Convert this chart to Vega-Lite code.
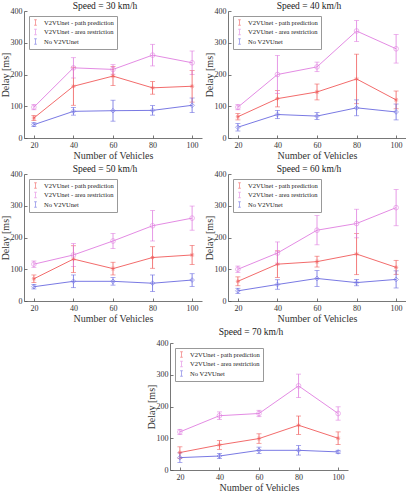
{
  "$schema": "https://vega.github.io/schema/vega-lite/v6.json",
  "padding": {"left": 0, "top": 0, "right": 0, "bottom": 0},
  "datasets": {
    "delay": [
      {"speed": 30, "method": "V2VUnet - path prediction", "vehicles": 20, "delay": 63, "err": 8},
      {"speed": 30, "method": "V2VUnet - path prediction", "vehicles": 40, "delay": 163, "err": 60},
      {"speed": 30, "method": "V2VUnet - path prediction", "vehicles": 60, "delay": 195, "err": 30},
      {"speed": 30, "method": "V2VUnet - path prediction", "vehicles": 80, "delay": 158, "err": 20},
      {"speed": 30, "method": "V2VUnet - path prediction", "vehicles": 100, "delay": 163, "err": 50},
      {"speed": 30, "method": "V2VUnet - area restriction", "vehicles": 20, "delay": 97, "err": 8},
      {"speed": 30, "method": "V2VUnet - area restriction", "vehicles": 40, "delay": 221, "err": 32},
      {"speed": 30, "method": "V2VUnet - area restriction", "vehicles": 60, "delay": 216, "err": 15},
      {"speed": 30, "method": "V2VUnet - area restriction", "vehicles": 80, "delay": 261, "err": 34},
      {"speed": 30, "method": "V2VUnet - area restriction", "vehicles": 100, "delay": 237, "err": 37},
      {"speed": 30, "method": "No V2VUnet", "vehicles": 20, "delay": 42, "err": 6},
      {"speed": 30, "method": "No V2VUnet", "vehicles": 40, "delay": 84, "err": 12},
      {"speed": 30, "method": "No V2VUnet", "vehicles": 60, "delay": 86, "err": 33},
      {"speed": 30, "method": "No V2VUnet", "vehicles": 80, "delay": 87, "err": 15},
      {"speed": 30, "method": "No V2VUnet", "vehicles": 100, "delay": 103, "err": 23},

      {"speed": 40, "method": "V2VUnet - path prediction", "vehicles": 20, "delay": 67, "err": 10},
      {"speed": 40, "method": "V2VUnet - path prediction", "vehicles": 40, "delay": 124, "err": 26},
      {"speed": 40, "method": "V2VUnet - path prediction", "vehicles": 60, "delay": 145, "err": 25},
      {"speed": 40, "method": "V2VUnet - path prediction", "vehicles": 80, "delay": 186, "err": 78},
      {"speed": 40, "method": "V2VUnet - path prediction", "vehicles": 100, "delay": 120, "err": 28},
      {"speed": 40, "method": "V2VUnet - area restriction", "vehicles": 20, "delay": 97, "err": 8},
      {"speed": 40, "method": "V2VUnet - area restriction", "vehicles": 40, "delay": 200, "err": 60},
      {"speed": 40, "method": "V2VUnet - area restriction", "vehicles": 60, "delay": 224, "err": 15},
      {"speed": 40, "method": "V2VUnet - area restriction", "vehicles": 80, "delay": 337, "err": 33},
      {"speed": 40, "method": "V2VUnet - area restriction", "vehicles": 100, "delay": 281, "err": 45},
      {"speed": 40, "method": "No V2VUnet", "vehicles": 20, "delay": 34, "err": 12},
      {"speed": 40, "method": "No V2VUnet", "vehicles": 40, "delay": 74, "err": 13},
      {"speed": 40, "method": "No V2VUnet", "vehicles": 60, "delay": 69, "err": 11},
      {"speed": 40, "method": "No V2VUnet", "vehicles": 80, "delay": 95, "err": 25},
      {"speed": 40, "method": "No V2VUnet", "vehicles": 100, "delay": 82, "err": 25},

      {"speed": 50, "method": "V2VUnet - path prediction", "vehicles": 20, "delay": 70, "err": 12},
      {"speed": 50, "method": "V2VUnet - path prediction", "vehicles": 40, "delay": 132, "err": 42},
      {"speed": 50, "method": "V2VUnet - path prediction", "vehicles": 60, "delay": 102, "err": 20},
      {"speed": 50, "method": "V2VUnet - path prediction", "vehicles": 80, "delay": 137, "err": 34},
      {"speed": 50, "method": "V2VUnet - path prediction", "vehicles": 100, "delay": 145, "err": 30},
      {"speed": 50, "method": "V2VUnet - area restriction", "vehicles": 20, "delay": 116, "err": 10},
      {"speed": 50, "method": "V2VUnet - area restriction", "vehicles": 40, "delay": 145, "err": 36},
      {"speed": 50, "method": "V2VUnet - area restriction", "vehicles": 60, "delay": 189, "err": 24},
      {"speed": 50, "method": "V2VUnet - area restriction", "vehicles": 80, "delay": 237, "err": 48},
      {"speed": 50, "method": "V2VUnet - area restriction", "vehicles": 100, "delay": 261, "err": 38},
      {"speed": 50, "method": "No V2VUnet", "vehicles": 20, "delay": 45, "err": 7},
      {"speed": 50, "method": "No V2VUnet", "vehicles": 40, "delay": 62, "err": 20},
      {"speed": 50, "method": "No V2VUnet", "vehicles": 60, "delay": 62, "err": 12},
      {"speed": 50, "method": "No V2VUnet", "vehicles": 80, "delay": 56, "err": 26},
      {"speed": 50, "method": "No V2VUnet", "vehicles": 100, "delay": 66, "err": 20},

      {"speed": 60, "method": "V2VUnet - path prediction", "vehicles": 20, "delay": 62, "err": 14},
      {"speed": 60, "method": "V2VUnet - path prediction", "vehicles": 40, "delay": 116, "err": 42},
      {"speed": 60, "method": "V2VUnet - path prediction", "vehicles": 60, "delay": 124, "err": 17},
      {"speed": 60, "method": "V2VUnet - path prediction", "vehicles": 80, "delay": 148, "err": 65},
      {"speed": 60, "method": "V2VUnet - path prediction", "vehicles": 100, "delay": 106, "err": 22},
      {"speed": 60, "method": "V2VUnet - area restriction", "vehicles": 20, "delay": 100, "err": 10},
      {"speed": 60, "method": "V2VUnet - area restriction", "vehicles": 40, "delay": 151, "err": 35},
      {"speed": 60, "method": "V2VUnet - area restriction", "vehicles": 60, "delay": 223, "err": 46},
      {"speed": 60, "method": "V2VUnet - area restriction", "vehicles": 80, "delay": 244, "err": 45},
      {"speed": 60, "method": "V2VUnet - area restriction", "vehicles": 100, "delay": 294, "err": 57},
      {"speed": 60, "method": "No V2VUnet", "vehicles": 20, "delay": 32, "err": 8},
      {"speed": 60, "method": "No V2VUnet", "vehicles": 40, "delay": 52, "err": 15},
      {"speed": 60, "method": "No V2VUnet", "vehicles": 60, "delay": 71, "err": 25},
      {"speed": 60, "method": "No V2VUnet", "vehicles": 80, "delay": 58, "err": 10},
      {"speed": 60, "method": "No V2VUnet", "vehicles": 100, "delay": 68, "err": 27},

      {"speed": 70, "method": "V2VUnet - path prediction", "vehicles": 20, "delay": 55, "err": 18},
      {"speed": 70, "method": "V2VUnet - path prediction", "vehicles": 40, "delay": 79, "err": 14},
      {"speed": 70, "method": "V2VUnet - path prediction", "vehicles": 60, "delay": 99, "err": 15},
      {"speed": 70, "method": "V2VUnet - path prediction", "vehicles": 80, "delay": 141, "err": 29},
      {"speed": 70, "method": "V2VUnet - path prediction", "vehicles": 100, "delay": 100, "err": 20},
      {"speed": 70, "method": "V2VUnet - area restriction", "vehicles": 20, "delay": 120, "err": 8},
      {"speed": 70, "method": "V2VUnet - area restriction", "vehicles": 40, "delay": 171, "err": 12},
      {"speed": 70, "method": "V2VUnet - area restriction", "vehicles": 60, "delay": 178, "err": 10},
      {"speed": 70, "method": "V2VUnet - area restriction", "vehicles": 80, "delay": 265, "err": 37},
      {"speed": 70, "method": "V2VUnet - area restriction", "vehicles": 100, "delay": 178, "err": 21},
      {"speed": 70, "method": "No V2VUnet", "vehicles": 20, "delay": 39, "err": 15},
      {"speed": 70, "method": "No V2VUnet", "vehicles": 40, "delay": 44, "err": 8},
      {"speed": 70, "method": "No V2VUnet", "vehicles": 60, "delay": 62, "err": 10},
      {"speed": 70, "method": "No V2VUnet", "vehicles": 80, "delay": 62, "err": 15},
      {"speed": 70, "method": "No V2VUnet", "vehicles": 100, "delay": 57, "err": 5}
    ]
  },
  "spacing": 3,
  "resolve": {"scale": {"color": "independent"}, "legend": {"color": "independent"}},
  "vconcat": [
    {
      "spacing": 2,
      "resolve": {"scale": {"color": "independent"}, "legend": {"color": "independent"}},
      "hconcat": [
        {
          "width": 178, "height": 127,
          "title": "Speed = 30 km/h",
          "data": {"name": "delay"},
          "transform": [{"filter": "datum.speed == 30"}],
          "encoding": {
            "x": {"field": "vehicles", "type": "quantitative", "scale": {"domain": [15, 105]}, "axis": {"values": [20, 40, 60, 80, 100], "title": "Number of Vehicles"}},
            "y": {"field": "delay", "type": "quantitative", "scale": {"domain": [0, 400]}, "axis": {"values": [0, 100, 200, 300, 400], "title": "Delay [ms]"}},
            "color": {"field": "method", "type": "nominal", "sort": null, "scale": {"domain": ["V2VUnet - path prediction", "V2VUnet - area restriction", "No V2VUnet"], "range": ["#f05a5a", "#e07ee0", "#6a6ae0"]}, "legend": {"title": null}}
          },
          "layer": [
            {"mark": {"type": "line", "strokeWidth": 0.9}},
            {"mark": {"type": "errorbar", "ticks": {"size": 5}, "thickness": 0.8}, "encoding": {"yError": {"field": "err"}}},
            {"transform": [{"filter": "datum.method == 'V2VUnet - path prediction'"}], "mark": {"type": "point", "shape": "M-1,0L1,0M0,-1L0,1M-0.7,-0.7L0.7,0.7M-0.7,0.7L0.7,-0.7", "filled": false, "size": 18, "strokeWidth": 0.8}},
            {"transform": [{"filter": "datum.method == 'V2VUnet - area restriction'"}], "mark": {"type": "point", "shape": "circle", "filled": false, "size": 22, "strokeWidth": 0.8}},
            {"transform": [{"filter": "datum.method == 'No V2VUnet'"}], "mark": {"type": "point", "shape": "diamond", "filled": false, "size": 22, "strokeWidth": 0.8}}
          ]
        },
        {
          "width": 178, "height": 127,
          "title": "Speed = 40 km/h",
          "data": {"name": "delay"},
          "transform": [{"filter": "datum.speed == 40"}],
          "encoding": {
            "x": {"field": "vehicles", "type": "quantitative", "scale": {"domain": [15, 105]}, "axis": {"values": [20, 40, 60, 80, 100], "title": "Number of Vehicles"}},
            "y": {"field": "delay", "type": "quantitative", "scale": {"domain": [0, 400]}, "axis": {"values": [0, 100, 200, 300, 400], "title": "Delay [ms]"}},
            "color": {"field": "method", "type": "nominal", "sort": null, "scale": {"domain": ["V2VUnet - path prediction", "V2VUnet - area restriction", "No V2VUnet"], "range": ["#f05a5a", "#e07ee0", "#6a6ae0"]}, "legend": {"title": null}}
          },
          "layer": [
            {"mark": {"type": "line", "strokeWidth": 0.9}},
            {"mark": {"type": "errorbar", "ticks": {"size": 5}, "thickness": 0.8}, "encoding": {"yError": {"field": "err"}}},
            {"transform": [{"filter": "datum.method == 'V2VUnet - path prediction'"}], "mark": {"type": "point", "shape": "M-1,0L1,0M0,-1L0,1M-0.7,-0.7L0.7,0.7M-0.7,0.7L0.7,-0.7", "filled": false, "size": 18, "strokeWidth": 0.8}},
            {"transform": [{"filter": "datum.method == 'V2VUnet - area restriction'"}], "mark": {"type": "point", "shape": "circle", "filled": false, "size": 22, "strokeWidth": 0.8}},
            {"transform": [{"filter": "datum.method == 'No V2VUnet'"}], "mark": {"type": "point", "shape": "diamond", "filled": false, "size": 22, "strokeWidth": 0.8}}
          ]
        }
      ]
    },
    {
      "spacing": 2,
      "resolve": {"scale": {"color": "independent"}, "legend": {"color": "independent"}},
      "hconcat": [
        {
          "width": 178, "height": 127,
          "title": "Speed = 50 km/h",
          "data": {"name": "delay"},
          "transform": [{"filter": "datum.speed == 50"}],
          "encoding": {
            "x": {"field": "vehicles", "type": "quantitative", "scale": {"domain": [15, 105]}, "axis": {"values": [20, 40, 60, 80, 100], "title": "Number of Vehicles"}},
            "y": {"field": "delay", "type": "quantitative", "scale": {"domain": [0, 400]}, "axis": {"values": [0, 100, 200, 300, 400], "title": "Delay [ms]"}},
            "color": {"field": "method", "type": "nominal", "sort": null, "scale": {"domain": ["V2VUnet - path prediction", "V2VUnet - area restriction", "No V2VUnet"], "range": ["#f05a5a", "#e07ee0", "#6a6ae0"]}, "legend": {"title": null}}
          },
          "layer": [
            {"mark": {"type": "line", "strokeWidth": 0.9}},
            {"mark": {"type": "errorbar", "ticks": {"size": 5}, "thickness": 0.8}, "encoding": {"yError": {"field": "err"}}},
            {"transform": [{"filter": "datum.method == 'V2VUnet - path prediction'"}], "mark": {"type": "point", "shape": "M-1,0L1,0M0,-1L0,1M-0.7,-0.7L0.7,0.7M-0.7,0.7L0.7,-0.7", "filled": false, "size": 18, "strokeWidth": 0.8}},
            {"transform": [{"filter": "datum.method == 'V2VUnet - area restriction'"}], "mark": {"type": "point", "shape": "circle", "filled": false, "size": 22, "strokeWidth": 0.8}},
            {"transform": [{"filter": "datum.method == 'No V2VUnet'"}], "mark": {"type": "point", "shape": "diamond", "filled": false, "size": 22, "strokeWidth": 0.8}}
          ]
        },
        {
          "width": 178, "height": 127,
          "title": "Speed = 60 km/h",
          "data": {"name": "delay"},
          "transform": [{"filter": "datum.speed == 60"}],
          "encoding": {
            "x": {"field": "vehicles", "type": "quantitative", "scale": {"domain": [15, 105]}, "axis": {"values": [20, 40, 60, 80, 100], "title": "Number of Vehicles"}},
            "y": {"field": "delay", "type": "quantitative", "scale": {"domain": [0, 400]}, "axis": {"values": [0, 100, 200, 300, 400], "title": "Delay [ms]"}},
            "color": {"field": "method", "type": "nominal", "sort": null, "scale": {"domain": ["V2VUnet - path prediction", "V2VUnet - area restriction", "No V2VUnet"], "range": ["#f05a5a", "#e07ee0", "#6a6ae0"]}, "legend": {"title": null}}
          },
          "layer": [
            {"mark": {"type": "line", "strokeWidth": 0.9}},
            {"mark": {"type": "errorbar", "ticks": {"size": 5}, "thickness": 0.8}, "encoding": {"yError": {"field": "err"}}},
            {"transform": [{"filter": "datum.method == 'V2VUnet - path prediction'"}], "mark": {"type": "point", "shape": "M-1,0L1,0M0,-1L0,1M-0.7,-0.7L0.7,0.7M-0.7,0.7L0.7,-0.7", "filled": false, "size": 18, "strokeWidth": 0.8}},
            {"transform": [{"filter": "datum.method == 'V2VUnet - area restriction'"}], "mark": {"type": "point", "shape": "circle", "filled": false, "size": 22, "strokeWidth": 0.8}},
            {"transform": [{"filter": "datum.method == 'No V2VUnet'"}], "mark": {"type": "point", "shape": "diamond", "filled": false, "size": 22, "strokeWidth": 0.8}}
          ]
        }
      ]
    },
    {
      "spacing": 20,
      "resolve": {"scale": {"color": "independent"}, "legend": {"color": "independent"}},
      "hconcat": [
        {
          "width": 102, "height": 127,
          "data": {"values": []},
          "mark": "point"
        },
        {
          "width": 178, "height": 127,
          "title": {"text": "Speed = 70 km/h", "offset": 3},
          "data": {"name": "delay"},
          "transform": [{"filter": "datum.speed == 70"}],
          "encoding": {
            "x": {"field": "vehicles", "type": "quantitative", "scale": {"domain": [15, 105]}, "axis": {"values": [20, 40, 60, 80, 100], "title": "Number of Vehicles"}},
            "y": {"field": "delay", "type": "quantitative", "scale": {"domain": [0, 400]}, "axis": {"values": [0, 100, 200, 300, 400], "title": "Delay [ms]"}},
            "color": {"field": "method", "type": "nominal", "sort": null, "scale": {"domain": ["V2VUnet - path prediction", "V2VUnet - area restriction", "No V2VUnet"], "range": ["#f05a5a", "#e07ee0", "#6a6ae0"]}, "legend": {"title": null}}
          },
          "layer": [
            {"mark": {"type": "line", "strokeWidth": 0.9}},
            {"mark": {"type": "errorbar", "ticks": {"size": 5}, "thickness": 0.8}, "encoding": {"yError": {"field": "err"}}},
            {"transform": [{"filter": "datum.method == 'V2VUnet - path prediction'"}], "mark": {"type": "point", "shape": "M-1,0L1,0M0,-1L0,1M-0.7,-0.7L0.7,0.7M-0.7,0.7L0.7,-0.7", "filled": false, "size": 18, "strokeWidth": 0.8}},
            {"transform": [{"filter": "datum.method == 'V2VUnet - area restriction'"}], "mark": {"type": "point", "shape": "circle", "filled": false, "size": 22, "strokeWidth": 0.8}},
            {"transform": [{"filter": "datum.method == 'No V2VUnet'"}], "mark": {"type": "point", "shape": "diamond", "filled": false, "size": 22, "strokeWidth": 0.8}}
          ]
        }
      ]
    }
  ],
  "config": {
    "font": "Liberation Serif",
    "view": {"stroke": null},
    "axis": {
      "grid": false,
      "labelFontSize": 8,
      "labelColor": "#333",
      "titleFontSize": 10,
      "titleFontWeight": "normal",
      "titleColor": "#333",
      "domainColor": "#555",
      "domainWidth": 0.8,
      "tickColor": "#555",
      "tickWidth": 0.8,
      "tickSize": -3,
      "labelPadding": 6
    },
    "axisX": {"titlePadding": 1},
    "axisY": {"titlePadding": 0, "labelPadding": 5},
    "title": {"fontSize": 9.5, "fontWeight": "normal", "color": "#222", "offset": -3, "dx": -8},
    "legend": {
      "orient": "top-left",
      "offset": 5,
      "strokeColor": "#999",
      "fillColor": "white",
      "padding": 3,
      "labelFontSize": 6.5,
      "labelColor": "#222",
      "labelOffset": 5,
      "rowPadding": 0.5,
      "symbolType": "M0,-1L0,1M-0.5,-1L0.5,-1M-0.5,1L0.5,1",
      "symbolSize": 30,
      "symbolStrokeWidth": 0.8
    }
  }
}
